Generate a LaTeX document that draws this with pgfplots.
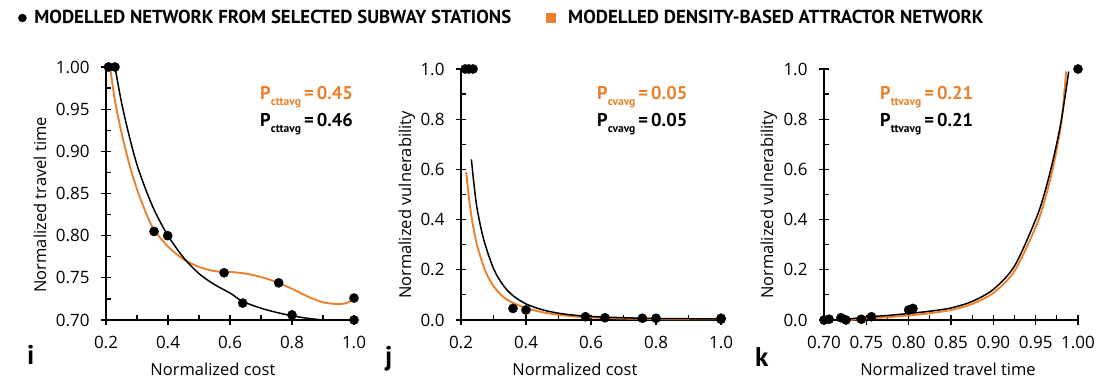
\documentclass[border=0pt]{standalone}
\usepackage{fontspec}
\setmainfont{Open Sans}
\newfontfamily\ptsans{PT Sans}
\usepackage{pgfplots}
\pgfplotsset{compat=1.18}
\definecolor{myorange}{RGB}{237,128,43}

\newcommand{\Pann}[2]{{\ptsans\fontsize{18.5}{18.5}\selectfont\bfseries P\raisebox{-5.5pt}{\fontsize{11.5}{11.5}\selectfont #1}\,=\,#2}}

\pgfplotsset{
  panel/.style={
    scale only axis,
    axis lines=left,
    axis line style={line width=1.5pt,-},
    every outer x axis line/.append style={-},
    every outer y axis line/.append style={-},
    tick style={line width=1.2pt,black},
    major tick length=10pt,
    minor tick length=5pt,
    tick align=center,
    minor x tick style={yshift=2.5pt},
    minor y tick style={xshift=2.5pt},
    minor tick num=1,
    tick label style={font=\fontsize{17}{17}\selectfont},
    xticklabel style={yshift=-8pt},
    yticklabel style={xshift=-8pt},
    label style={font=\fontsize{16.5}{16.5}\selectfont},
    /pgf/number format/assume math mode=true,
    clip=false,
    anchor=south west,
  },
  blk/.style={black, line width=1.5pt, smooth, no markers},
  org/.style={myorange, line width=1.9pt, smooth, no markers},
  dots/.style={only marks, mark=*, mark size=4.6pt, black},
}

\begin{document}
\begin{tikzpicture}[x=1pt,y=1pt]
\useasboundingbox (0,0) rectangle (1107,379);

% ---------- panel i ----------
\begin{axis}[panel,
  at={(106pt,59pt)}, width=248pt, height=253pt,
  xmin=0.2, xmax=1.0, ymin=0.7, ymax=1.0,
  xtick={0.2,0.4,0.6,0.8,1.0},
  ytick={0.70,0.75,0.80,0.85,0.90,0.95,1.00},
  xticklabel style={/pgf/number format/.cd, fixed, fixed zerofill, precision=1},
  yticklabel style={/pgf/number format/.cd, fixed, fixed zerofill, precision=2},
  xlabel={Normalized cost},
  ylabel={Normalized travel time},
  xlabel style={at={(axis description cs:0.431,-0.221)}, anchor=base},
  ylabel style={at={(axis description cs:-0.266,0.455)}, anchor=center},
  legend style={at={(axis description cs:-0.354,1.1937)}, anchor=west, draw=none, fill=none,
    legend columns=2, font=\ptsans\fontsize{18.8}{18.8}\selectfont\bfseries, inner sep=0pt,
    /tikz/every even column/.append style={column sep=33pt}},
  legend cell align=left,
]
\addlegendimage{only marks, mark=*, mark size=4pt, black}
\addlegendentry{\hspace{6pt}MODELLED NETWORK FROM SELECTED SUBWAY STATIONS}
\addlegendimage{only marks, mark=square*, mark size=4.5pt, myorange, draw=myorange}
\addlegendentry{\hspace{11pt}MODELLED DENSITY-BASED ATTRACTOR NETWORK}
\addplot[org, forget plot] coordinates {
(0.213,1.0) (0.23,0.958) (0.25,0.922) (0.275,0.885) (0.30,0.855) (0.33,0.826)
(0.355,0.807) (0.40,0.787) (0.45,0.772) (0.50,0.763) (0.55,0.758) (0.60,0.757)
(0.65,0.755) (0.70,0.751) (0.75,0.745) (0.80,0.737) (0.85,0.728) (0.90,0.721)
(0.944,0.719) (0.975,0.720) (1.0,0.725)};
\addplot[blk, forget plot] coordinates {
(0.229,1.0) (0.25,0.958) (0.275,0.918) (0.30,0.884) (0.33,0.853) (0.36,0.827)
(0.40,0.80) (0.45,0.774) (0.50,0.755) (0.55,0.742) (0.60,0.732) (0.641,0.722)
(0.70,0.714) (0.75,0.709) (0.80,0.705) (0.85,0.702) (0.90,0.700)};
\addplot[dots, forget plot] coordinates {
(0.208,1.0) (0.229,1.0) (0.355,0.805) (0.399,0.80) (0.581,0.756) (0.641,0.72)
(0.757,0.744) (0.80,0.706) (1.0,0.726) (1.0,0.70)};
\end{axis}

% ---------- panel j ----------
\begin{axis}[panel,
  at={(461pt,59pt)}, width=260pt, height=251pt,
  xmin=0.2, xmax=1.0, ymin=0, ymax=1.0,
  xtick={0.2,0.4,0.6,0.8,1.0},
  ytick={0,0.2,0.4,0.6,0.8,1.0},
  xticklabel style={/pgf/number format/.cd, fixed, fixed zerofill, precision=1},
  yticklabel style={/pgf/number format/.cd, fixed, fixed zerofill, precision=1},
  xlabel={Normalized cost},
  ylabel={Normalized vulnerability},
  xlabel style={at={(axis description cs:0.438,-0.223)}, anchor=base},
  ylabel style={at={(axis description cs:-0.208,0.458)}, anchor=center},
]
\addplot[org] coordinates {
(0.216,0.59) (0.225,0.48) (0.235,0.39) (0.25,0.295) (0.275,0.195) (0.30,0.135)
(0.33,0.092) (0.36,0.068) (0.40,0.048) (0.45,0.031) (0.50,0.021) (0.55,0.014)
(0.60,0.010) (0.70,0.006) (0.80,0.004) (0.90,0.003) (1.0,0.003)};
\addplot[blk] coordinates {
(0.232,0.64) (0.24,0.54) (0.25,0.44) (0.27,0.32) (0.30,0.205) (0.33,0.138)
(0.36,0.097) (0.40,0.064) (0.45,0.041) (0.50,0.027) (0.55,0.019) (0.60,0.014)
(0.70,0.009) (0.80,0.006) (0.90,0.005) (1.0,0.004)};
\addplot[dots] coordinates {
(0.213,1.0) (0.224,1.0) (0.237,1.0) (0.36,0.046) (0.40,0.04) (0.583,0.013)
(0.643,0.009) (0.758,0.007) (0.80,0.007) (1.0,0.007) (1.0,0.003)};
\end{axis}

% ---------- panel k ----------
\begin{axis}[panel,
  at={(824pt,59pt)}, width=254pt, height=251pt,
  xmin=0.7, xmax=1.0, ymin=0, ymax=1.0,
  xtick={0.70,0.75,0.80,0.85,0.90,0.95,1.00},
  ytick={0,0.2,0.4,0.6,0.8,1.0},
  xticklabel style={/pgf/number format/.cd, fixed, fixed zerofill, precision=2},
  yticklabel style={/pgf/number format/.cd, fixed, fixed zerofill, precision=1},
  xlabel={Normalized travel time},
  ylabel={Normalized vulnerability},
  xlabel style={at={(axis description cs:0.488,-0.223)}, anchor=base},
  ylabel style={at={(axis description cs:-0.217,0.458)}, anchor=center},
]
\addplot[org] coordinates {
(0.73,0.0) (0.75,0.006) (0.775,0.011) (0.80,0.018) (0.825,0.027) (0.85,0.040)
(0.875,0.064) (0.90,0.108) (0.925,0.195) (0.95,0.37) (0.96,0.47) (0.97,0.60)
(0.98,0.78) (0.986,0.99)};
\addplot[blk] coordinates {
(0.725,0.002) (0.75,0.012) (0.775,0.018) (0.80,0.026) (0.825,0.035) (0.85,0.048)
(0.875,0.074) (0.90,0.122) (0.925,0.215) (0.95,0.40) (0.96,0.50) (0.97,0.63)
(0.98,0.79) (0.989,0.99)};
\addplot[dots] coordinates {
(0.70,0.0) (0.706,0.003) (0.72,0.009) (0.726,0.0) (0.744,0.003) (0.756,0.013)
(0.80,0.04) (0.805,0.046) (1.0,1.0)};
\end{axis}

% ---------- annotations ----------
\node[anchor=base west, inner sep=0pt, text=myorange] at (260,279) {\Pann{cttavg}{0.45}};
\node[anchor=base west, inner sep=0pt, text=black]    at (260,252) {\Pann{cttavg}{0.46}};
\node[anchor=base west, inner sep=0pt, text=myorange] at (597,279) {\Pann{cvavg}{0.05}};
\node[anchor=base west, inner sep=0pt, text=black]    at (597,252) {\Pann{cvavg}{0.05}};
\node[anchor=base west, inner sep=0pt, text=myorange] at (880,279) {\Pann{ttvavg}{0.21}};
\node[anchor=base west, inner sep=0pt, text=black]    at (880,252) {\Pann{ttvavg}{0.21}};

% ---------- panel letters ----------
\node[anchor=base west, inner sep=0pt, font=\ptsans\fontsize{27}{27}\selectfont\bfseries] at (27,14) {i};
\node[anchor=base west, inner sep=0pt, font=\ptsans\fontsize{27}{27}\selectfont\bfseries] at (385,13) {j};
\node[anchor=base west, inner sep=0pt, font=\ptsans\fontsize{27}{27}\selectfont\bfseries] at (755,12) {k};
\end{tikzpicture}
\end{document}
